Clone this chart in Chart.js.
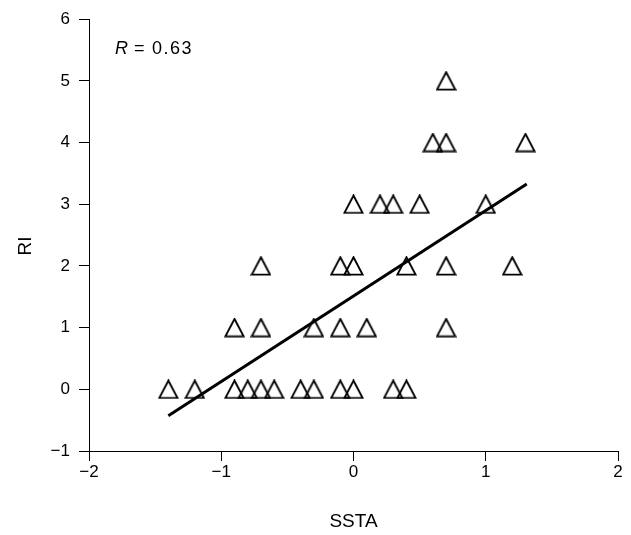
<!DOCTYPE html>
<html>
<head>
<meta charset="utf-8">
<script src="https://cdn.jsdelivr.net/npm/chart.js@4/dist/chart.umd.min.js"></script>
<style>
  html, body { margin: 0; padding: 0; background: #fff; }
  #wrap { width: 631px; height: 535px; }
</style>
</head>
<body>
<div id="wrap"><canvas id="c"></canvas></div>
<script>
// SSTA vs RI
const ssta = [-1.4, -1.2, -0.9, -0.8, -0.7, -0.6, -0.4, -0.3, -0.1, 0, 0.3, 0.4,
              -0.9, -0.7, -0.3, -0.1, 0.1, 0.7,
              -0.7, -0.1, 0, 0.4, 0.7, 1.2,
              0, 0.2, 0.3, 0.5, 1.0,
              0.6, 0.7, 1.3,
              0.7];
const ri = [0, 0, 0, 0, 0, 0, 0, 0, 0, 0, 0, 0,
            1, 1, 1, 1, 1, 1,
            2, 2, 2, 2, 2, 2,
            3, 3, 3, 3, 3,
            4, 4, 4,
            5];
// regression line ends
const fitX = [-1.4, 1.31];
const fitY = [-0.43, 3.33];
const rLabel = '0.63';

const xTicks = [-2, -1, 0, 1, 2];
const yTicks = [-1, 0, 1, 2, 3, 4, 5, 6];

const FONT = '"Liberation Sans", Arial, Helvetica, sans-serif';

function fmt(v) {
  return v < 0 ? '\u2212' + Math.abs(v) : String(v);
}

// open triangle marker, centred on its bounding box
function makeTriangle() {
  const cv = document.createElement('canvas');
  cv.width = 21; cv.height = 20;
  const g = cv.getContext('2d');
  g.strokeStyle = '#000';
  g.lineWidth = 1.9;
  g.beginPath();
  g.moveTo(10.5, 1.3);
  g.lineTo(19.6, 18.6);
  g.lineTo(1.4, 18.6);
  g.closePath();
  g.stroke();
  return cv;
}
const tri = makeTriangle();

const labels = {
  id: 'labels',
  afterDraw(chart) {
    const ctx = chart.ctx;
    const a = chart.chartArea;
    ctx.save();
    ctx.fillStyle = '#000';
    ctx.textBaseline = 'alphabetic';
    ctx.font = 'italic 18px ' + FONT;
    ctx.fillText('R', 115, 54);
    ctx.font = '18px ' + FONT;
    ctx.fillText('=', 134, 54);
    ctx.letterSpacing = '1.5px';
    ctx.fillText(rLabel, 152, 54);
    ctx.letterSpacing = '0px';
    // axis titles
    ctx.font = '19px ' + FONT;
    ctx.textAlign = 'center';
    ctx.textBaseline = 'middle';
    ctx.fillText('SSTA', (a.left + a.right) / 2, 522);
    ctx.translate(26, 246);
    ctx.rotate(-Math.PI / 2);
    ctx.fillText('RI', 0, 0);
    ctx.restore();
  }
};

const points = ssta.map((x, i) => ({ x: x, y: ri[i] }));
const fit = fitX.map((x, i) => ({ x: x, y: fitY[i] }));

new Chart(document.getElementById('c'), {
  type: 'scatter',
  data: {
    datasets: [
      {
        data: points,
        pointStyle: tri,
        pointRadius: 10,
        pointHoverRadius: 10,
        showLine: false
      },
      {
        type: 'line',
        data: fit,
        borderColor: '#000',
        borderWidth: 3,
        pointRadius: 0,
        fill: false,
        tension: 0
      }
    ]
  },
  options: {
    responsive: true,
    maintainAspectRatio: false,
    animation: false,
    events: [],
    layout: { padding: { top: 14, right: 13, bottom: 0, left: 0 } },
    plugins: {
      legend: { display: false },
      tooltip: { enabled: false }
    },
    scales: {
      x: {
        type: 'linear',
        min: -2, max: 2,
        afterBuildTicks: s => { s.ticks = xTicks.map(v => ({ value: v })); },
        afterFit: s => { s.height = 84; },
        border: { color: '#000', width: 1 },
        grid: { drawOnChartArea: false, drawTicks: true, tickLength: 10, color: '#000', tickWidth: 1 },
        ticks: { color: '#000', padding: 1, font: { family: FONT, size: 17 }, callback: fmt, maxRotation: 0 }
      },
      y: {
        type: 'linear',
        min: -1, max: 6,
        afterBuildTicks: s => { s.ticks = yTicks.map(v => ({ value: v })); },
        afterFit: s => { s.width = 89; },
        border: { color: '#000', width: 1 },
        grid: { drawOnChartArea: false, drawTicks: true, tickLength: 10, color: '#000', tickWidth: 1 },
        ticks: { color: '#000', padding: 9, font: { family: FONT, size: 17 }, callback: fmt }
      }
    }
  },
  plugins: [labels]
});
</script>
</body>
</html>
